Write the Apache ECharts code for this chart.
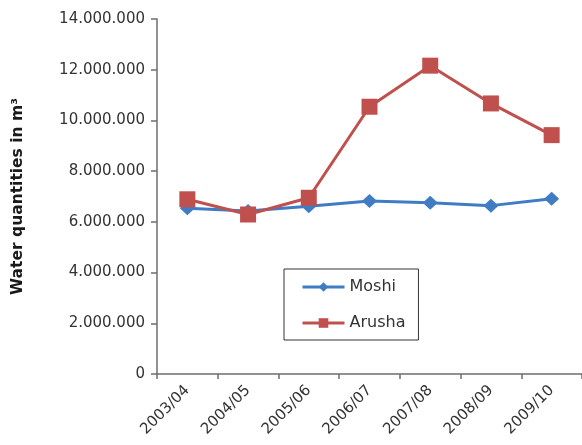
<!DOCTYPE html>
<html>
<head>
<meta charset="utf-8">
<script src="https://cdn.jsdelivr.net/npm/echarts@6/dist/echarts.min.js"></script>
<style>
  html, body { margin: 0; padding: 0; background: #fff; }
  #chart { width: 582px; height: 445px; }
</style>
</head>
<body>
<div id="chart"></div>
<script>
// Seasons (fiscal years)
const seasons = ['2003/04', '2004/05', '2005/06', '2006/07', '2007/08', '2008/09', '2009/10'];
// Water quantities in m³ per town
const moshi  = [6540000, 6430000, 6620000, 6820000, 6750000, 6640000, 6910000];
const arusha = [6890000, 6290000, 6950000, 10540000, 12160000, 10670000, 9420000];
// Value axis range
const yMin = 0, yMax = 14000000, yStep = 2000000;

function dotted(v) {
  return String(Math.round(v)).replace(/\B(?=(\d{3})+(?!\d))/g, '.');
}

const font = 'DejaVu Sans';
const txt = '#333333';
const axisCol = '#6e6e6e';

const chart = echarts.init(document.getElementById('chart'), null, { renderer: 'canvas' });
chart.setOption({
  animation: false,
  backgroundColor: '#ffffff',
  grid: { left: 157, top: 19, right: -2, bottom: 71, containLabel: false },
  legend: {
    orient: 'vertical',
    left: 284, top: 269,
    padding: [9, 13, 8, 17],
    itemWidth: 42, itemHeight: 12, itemGap: 18,
    borderColor: '#333333', borderWidth: 1,
    backgroundColor: '#ffffff',
    lineStyle: { width: 3 },
    textStyle: { fontFamily: font, fontSize: 16, color: txt, lineHeight: 18 },
    data: ['Moshi', 'Arusha']
  },
  xAxis: {
    type: 'category',
    data: seasons,
    boundaryGap: true,
    axisLine: { lineStyle: { color: axisCol, width: 1.5 } },
    axisTick: { show: true, length: 5, lineStyle: { color: axisCol, width: 1.5 } },
    axisLabel: { rotate: 45, margin: 14, fontFamily: font, fontSize: 15, color: txt, interval: 0 },
    splitLine: { show: false }
  },
  yAxis: {
    type: 'value',
    min: yMin, max: yMax, interval: yStep,
    name: 'Water quantities in m³',
    nameLocation: 'middle',
    nameGap: 131,
    nameTextStyle: { fontFamily: font, fontSize: 15.5, fontWeight: 'bold', color: '#1a1a1a' },
    axisLine: { show: true, lineStyle: { color: axisCol, width: 1.5 } },
    axisTick: { show: true, length: 6, lineStyle: { color: axisCol, width: 1.5 } },
    axisLabel: { margin: 12, fontFamily: font, fontSize: 15, color: txt, formatter: dotted },
    splitLine: { show: false }
  },
  series: [
    {
      name: 'Moshi',
      type: 'line',
      data: moshi,
      symbol: 'diamond',
      symbolSize: [15, 14],
      lineStyle: { color: '#3f7cc4', width: 3 },
      itemStyle: { color: '#3f7cc4' }
    },
    {
      name: 'Arusha',
      type: 'line',
      data: arusha,
      symbol: 'rect',
      symbolSize: 16,
      lineStyle: { color: '#c0504d', width: 3 },
      itemStyle: { color: '#c0504d' }
    }
  ]
});
</script>
</body>
</html>
